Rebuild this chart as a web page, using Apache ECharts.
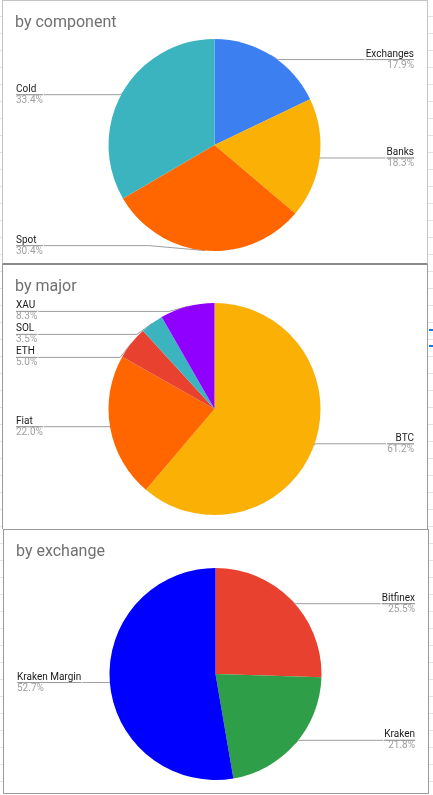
<!DOCTYPE html>
<html><head><meta charset="utf-8">
<script src="https://cdn.jsdelivr.net/npm/echarts@6/dist/echarts.min.js"></script>
<style>
html,body{margin:0;padding:0;width:433px;height:795px;overflow:hidden;background:#fff;}
body{position:relative;background-image:repeating-linear-gradient(to bottom, transparent 0, transparent 16px, #e3e3e3 16px, #e3e3e3 17px);}
.box{position:absolute;background:#fff;}
.chart{width:100%;height:100%;}
#b1{left:2px;top:0;width:424px;height:262px;border:1px solid #c4c4c4;border-bottom:2px solid #8a8a8a;}
#b2{left:2px;top:265px;width:424px;height:264px;border-left:1px solid #9a9a9a;border-right:1px solid #9a9a9a;}
#b3{left:3px;top:529px;width:424px;height:263px;border:1px solid #9a9a9a;}
.mark{position:absolute;left:429px;width:4px;height:2px;background:#1a73e8;}
</style></head>
<body>
<div class="box" id="b1"><div class="chart" id="c1"></div></div>
<div class="box" id="b2"><div class="chart" id="c2"></div></div>
<div class="box" id="b3"><div class="chart" id="c3"></div></div>
<div class="mark" style="top:329px"></div>
<div class="mark" style="top:345px"></div>
<script>
// ---- data ----
const componentNames = ['Exchanges', 'Banks', 'Spot', 'Cold'];
const componentShares = [17.9, 18.3, 30.4, 33.4];
const majorNames = ['BTC', 'Fiat', 'ETH', 'SOL', 'XAU'];
const majorShares = [61.2, 22.0, 5.0, 3.5, 8.3];
const exchangeNames = ['Bitfinex', 'Kraken', 'Kraken Margin'];
const exchangeShares = [25.5, 21.8, 52.7];

// ---- styles ----
const componentColors = ['#3b7ff1', '#fab005', '#ff6600', '#3cb4bf'];
const majorColors = ['#fab005', '#ff6600', '#e8412f', '#3cb4bf', '#8f00ff'];
const exchangeColors = ['#e8412f', '#2f9e48', '#0000ff'];

function makeOption(title, names, values, colors) {
  return {
    animation: false,
    title: {
      text: title, left: 12, top: 14, padding: 0,
      textStyle: { fontFamily: 'Roboto', fontSize: 16, fontWeight: 'normal', color: '#707070' }
    },
    series: [{
      type: 'pie',
      radius: 106,
      center: [211.5, 144],
      startAngle: 90,
      clockwise: true,
      silent: true,
      avoidLabelOverlap: true,
      data: names.map((n, i) => ({ name: n, value: values[i], itemStyle: { color: colors[i] } })),
      itemStyle: { borderWidth: 0 },
      label: {
        show: true,
        position: 'outer',
        alignTo: 'edge',
        edgeDistance: 13,
        distanceToLabelLine: 0,
        formatter: p => '{n|' + p.name + '}\n{hr|}\n{p|' + p.value.toFixed(1) + '%}',
        rich: {
          n: { fontFamily: 'Roboto', fontSize: 10, color: '#1a1a1a', lineHeight: 11 },
          hr: { borderColor: '#9e9e9e', borderWidth: 1, width: '100%', height: 0 },
          p: { fontFamily: 'Roboto', fontSize: 10, color: '#9e9e9e', lineHeight: 11 }
        }
      },
      labelLine: { show: true, length: -5, length2: 10, lineStyle: { color: '#9e9e9e', width: 1 } }
    }]
  };
}

echarts.init(document.getElementById('c1')).setOption(makeOption('by component', componentNames, componentShares, componentColors));
echarts.init(document.getElementById('c2')).setOption(makeOption('by major', majorNames, majorShares, majorColors));
echarts.init(document.getElementById('c3')).setOption(makeOption('by exchange', exchangeNames, exchangeShares, exchangeColors));
</script>
</body></html>
